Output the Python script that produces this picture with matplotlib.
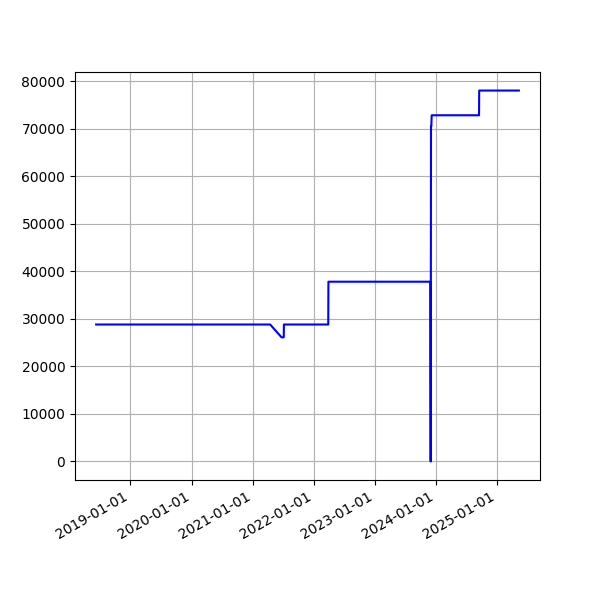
import matplotlib
matplotlib.use('Agg')
import matplotlib.pyplot as plt
import matplotlib.dates as mdates
import numpy as np

# step points
dates = [
    '2018-06-10', '2021-04-15', '2021-06-22', '2021-07-05', '2021-07-06',
    '2022-03-28', '2022-03-29', '2023-11-28', '2023-11-30', '2023-12-02',
    '2023-12-04', '2023-12-06', '2024-09-14', '2024-09-15', '2025-05-10',
]
values = [
    28800, 28800, 26100, 26100, 28800,
    28800, 37800, 37800, 0, 70500,
    70500, 72800, 72800, 78000, 78000,
]

x = np.array(dates, dtype='datetime64[D]')

fig, ax = plt.subplots(figsize=(6, 6), dpi=100)
ax.plot(x, values, color='blue')
ax.xaxis.set_major_locator(mdates.YearLocator())
ax.xaxis.set_major_formatter(mdates.DateFormatter('%Y-%m-%d'))
ax.grid(True)
fig.autofmt_xdate()

plt.savefig('out.png', dpi=100)
plt.close()
